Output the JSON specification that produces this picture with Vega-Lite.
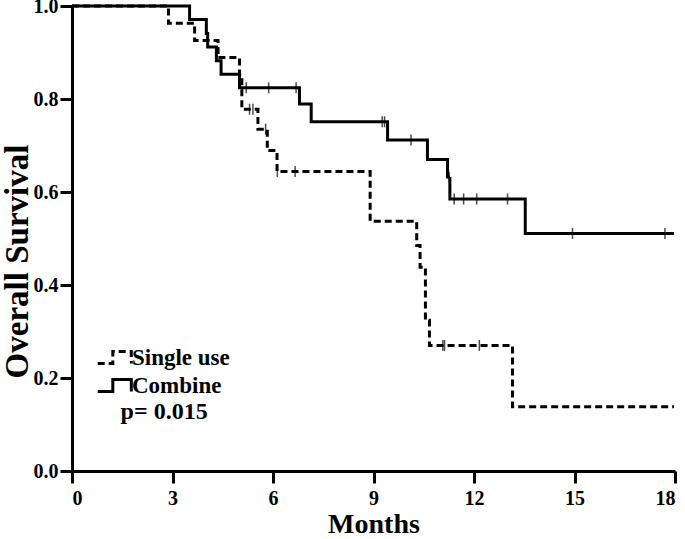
{
  "$schema": "https://vega.github.io/schema/vega-lite/v6.json",
  "width": 603,
  "height": 465,
  "autosize": "none",
  "padding": {"left": 72, "top": 6, "right": 10, "bottom": 68},
  "background": "white",
  "config": {
    "view": {"stroke": null},
    "font": "Liberation Serif",
    "axis": {
      "grid": false,
      "domainColor": "black",
      "domainWidth": 3,
      "tickColor": "black",
      "tickWidth": 3,
      "tickSize": 12,
      "labelFont": "Liberation Serif",
      "labelFontWeight": "bold",
      "labelFontSize": 20,
      "labelColor": "black",
      "titleFont": "Liberation Serif",
      "titleFontWeight": "bold",
      "titleColor": "black"
    }
  },
  "datasets": {
    "curves": [
      {"group": "Single use", "month": 0, "surv": 1.0},
      {"group": "Single use", "month": 2.88, "surv": 0.963},
      {"group": "Single use", "month": 3.66, "surv": 0.926},
      {"group": "Single use", "month": 4.36, "surv": 0.889},
      {"group": "Single use", "month": 5.0, "surv": 0.852},
      {"group": "Single use", "month": 5.07, "surv": 0.778},
      {"group": "Single use", "month": 5.55, "surv": 0.735},
      {"group": "Single use", "month": 5.83, "surv": 0.689},
      {"group": "Single use", "month": 6.12, "surv": 0.644},
      {"group": "Single use", "month": 8.9, "surv": 0.537},
      {"group": "Single use", "month": 10.29, "surv": 0.485},
      {"group": "Single use", "month": 10.39, "surv": 0.438},
      {"group": "Single use", "month": 10.55, "surv": 0.324},
      {"group": "Single use", "month": 10.67, "surv": 0.27},
      {"group": "Single use", "month": 13.15, "surv": 0.138},
      {"group": "Single use", "month": 17.97, "surv": 0.138},
      {"group": "Combine", "month": 0, "surv": 1.0},
      {"group": "Combine", "month": 3.51, "surv": 0.971},
      {"group": "Combine", "month": 4.01, "surv": 0.941},
      {"group": "Combine", "month": 4.05, "surv": 0.912},
      {"group": "Combine", "month": 4.31, "surv": 0.882},
      {"group": "Combine", "month": 4.45, "surv": 0.853},
      {"group": "Combine", "month": 5.0, "surv": 0.824},
      {"group": "Combine", "month": 6.79, "surv": 0.789},
      {"group": "Combine", "month": 7.14, "surv": 0.751},
      {"group": "Combine", "month": 9.42, "surv": 0.712},
      {"group": "Combine", "month": 10.61, "surv": 0.67},
      {"group": "Combine", "month": 11.21, "surv": 0.632},
      {"group": "Combine", "month": 11.28, "surv": 0.585},
      {"group": "Combine", "month": 13.53, "surv": 0.511},
      {"group": "Combine", "month": 17.97, "surv": 0.511}
    ],
    "censored": [
      {"group": "Single use", "month": 5.3, "surv": 0.778},
      {"group": "Single use", "month": 5.4, "surv": 0.778},
      {"group": "Single use", "month": 5.78, "surv": 0.735},
      {"group": "Single use", "month": 6.13, "surv": 0.644},
      {"group": "Single use", "month": 6.66, "surv": 0.644},
      {"group": "Single use", "month": 11.07, "surv": 0.27},
      {"group": "Single use", "month": 11.12, "surv": 0.27},
      {"group": "Single use", "month": 12.16, "surv": 0.27},
      {"group": "Combine", "month": 5.2, "surv": 0.824},
      {"group": "Combine", "month": 5.87, "surv": 0.824},
      {"group": "Combine", "month": 6.69, "surv": 0.824},
      {"group": "Combine", "month": 9.26, "surv": 0.751},
      {"group": "Combine", "month": 9.33, "surv": 0.751},
      {"group": "Combine", "month": 10.12, "surv": 0.712},
      {"group": "Combine", "month": 11.26, "surv": 0.632},
      {"group": "Combine", "month": 11.41, "surv": 0.585},
      {"group": "Combine", "month": 11.69, "surv": 0.585},
      {"group": "Combine", "month": 12.08, "surv": 0.585},
      {"group": "Combine", "month": 13.0, "surv": 0.585},
      {"group": "Combine", "month": 14.94, "surv": 0.511},
      {"group": "Combine", "month": 17.7, "surv": 0.511}
    ],
    "notes": [
      {"label": "p= 0.015", "month": 2.75, "surv": 0.127}
    ]
  },
  "layer": [
    {
      "data": {"name": "curves"},
      "mark": {"type": "line", "interpolate": "step-after", "strokeWidth": 3, "color": "black"},
      "encoding": {
        "x": {
          "field": "month", "type": "quantitative",
          "scale": {"domain": [0, 18], "nice": false, "zero": false},
          "axis": {"values": [0, 3, 6, 9, 12, 15, 18], "title": "Months", "labelPadding": 5, "titlePadding": 2, "titleFontSize": 28}
        },
        "y": {
          "field": "surv", "type": "quantitative",
          "scale": {"domain": [0, 1], "nice": false},
          "axis": {"values": [0, 0.2, 0.4, 0.6, 0.8, 1.0], "format": ".1f", "title": "Overall Survival", "labelPadding": 2, "titleFontSize": 33, "titleAngle": 270, "titleX": -55, "titleY": 255, "titleBaseline": "middle", "titleAlign": "center"}
        },
        "strokeDash": {
          "field": "group", "type": "nominal",
          "scale": {"domain": ["Single use", "Combine"], "range": [[7, 4], [1, 0]]},
          "legend": {
            "orient": "none",
            "legendX": 29,
            "legendY": 338,
            "title": null,
            "symbolType": "M-1.4,0.5H-0.14V-0.5H1.4V0.5",
            "symbolSize": 576,
            "symbolStrokeWidth": 3,
            "symbolStrokeColor": "black",
            "symbolFillColor": "transparent",
            "labelFont": "Liberation Serif",
            "labelFontWeight": "bold",
            "labelFontSize": 23,
            "labelColor": "black",
            "labelOffset": 4,
            "rowPadding": 2
          }
        }
      }
    },
    {
      "data": {"name": "censored"},
      "mark": {"type": "tick", "orient": "vertical", "size": 11, "thickness": 1.5, "color": "black"},
      "encoding": {
        "x": {"field": "month", "type": "quantitative"},
        "y": {"field": "surv", "type": "quantitative"}
      }
    },
    {
      "data": {"name": "notes"},
      "mark": {"type": "text", "font": "Liberation Serif", "fontWeight": "bold", "fontSize": 24, "color": "black", "align": "center", "baseline": "middle"},
      "encoding": {
        "x": {"field": "month", "type": "quantitative"},
        "y": {"field": "surv", "type": "quantitative"},
        "text": {"field": "label"}
      }
    }
  ]
}
